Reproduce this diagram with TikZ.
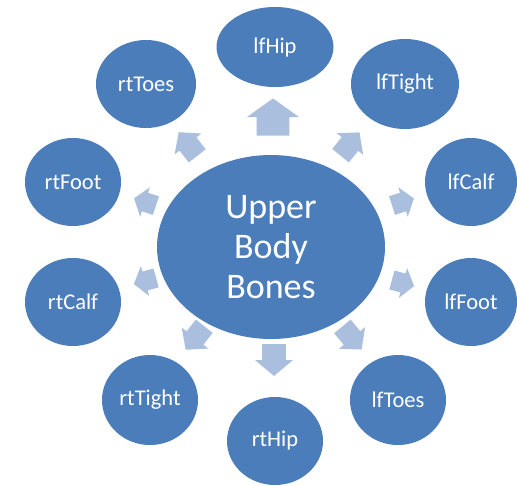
\documentclass[tikz,border=0pt]{standalone}
\usepackage{fontspec}
\setmainfont{Carlito}
\usetikzlibrary{shapes.geometric}
\definecolor{bonefill}{HTML}{4A7DBA}
\definecolor{arrowfill}{HTML}{AABFDD}
\newcommand\blockarr[5]{% x, y, angle, length, head width
  \fill[arrowfill, shift={(#1,#2)}, rotate=#3]
    ({-#4/2},{-0.315*#5}) -- ({#4/2-0.5*#4},{-0.315*#5}) -- ({#4/2-0.5*#4},{-#5/2})
    -- ({#4/2},0) -- ({#4/2-0.5*#4},{#5/2}) -- ({#4/2-0.5*#4},{0.315*#5})
    -- ({-#4/2},{0.315*#5}) -- cycle;}
\begin{document}
\begin{tikzpicture}[x=1pt,y=-1pt,
  bone/.style={ellipse, fill=bonefill, text=white, inner sep=0pt,
    font=\fontsize{22.5}{27}\selectfont},
  hub/.style={ellipse, fill=bonefill, text=white, inner sep=0pt, align=center,
    font=\fontsize{36}{40}\selectfont}]
\useasboundingbox (0,0) rectangle (517,485);
\fill[white] (0,0) rectangle (517,485);
% arrows
\blockarr{273}{117}{90}{37}{52}
\blockarr{350}{144}{50.7}{30}{34}
\blockarr{403}{202}{18}{23}{31}
\blockarr{403}{283}{-15.4}{23}{31}
\blockarr{352}{338}{-50.3}{30}{34}
\blockarr{274}{360}{-90}{32}{38}
\blockarr{195}{338}{-128.3}{30}{34}
\blockarr{145}{281}{-164.5}{23}{31}
\blockarr{145}{202}{161.8}{23}{31}
\blockarr{188}{144}{127.9}{30}{34}
% nodes
\node[hub, minimum width=228pt, minimum height=184pt] (hub) at (271,247) {Upper\\Body\\Bones};
\node[bone, minimum width=117pt, minimum height=80pt] (lfHip) at (275,47) {lfHip};
\node[bone, minimum width=100pt, minimum height=88pt] (rtToes) at (146,84) {rtToes};
\node[bone, minimum width=108pt, minimum height=90pt] (lfTight) at (405,84) {lfTight};
\node[bone, minimum width=96pt, minimum height=88pt] (rtFoot) at (73,182) {rtFoot};
\node[bone, minimum width=96pt, minimum height=88pt] (rtCalf) at (73,302) {rtCalf};
\node[bone, minimum width=92pt, minimum height=88pt] (lfCalf) at (471,182) {lfCalf};
\node[bone, minimum width=92pt, minimum height=88pt] (lfFoot) at (471,302) {lfFoot};
\node[bone, minimum width=96pt, minimum height=90pt] (rtTight) at (150,400) {rtTight};
\node[bone, minimum width=96pt, minimum height=88pt] (rtHip) at (275,441) {rtHip};
\node[bone, minimum width=96pt, minimum height=90pt] (lfToes) at (398,400) {lfToes};
\end{tikzpicture}
\end{document}
